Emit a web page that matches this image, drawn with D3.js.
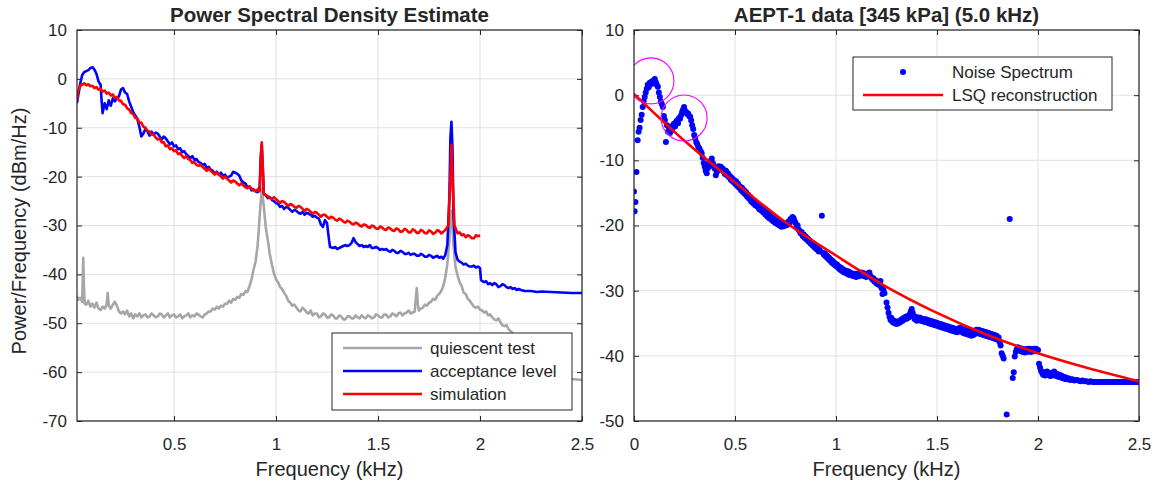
<!DOCTYPE html>
<html>
<head>
<meta charset="utf-8">
<script src="https://cdn.jsdelivr.net/npm/d3@7"></script>
<style>
  body { margin: 0; background: #fff; }
  text { font-family: "Liberation Sans", Arial, Helvetica, sans-serif; fill: #262626; }
</style>
</head>
<body>
<svg id="chart" width="1156" height="482"></svg>
<script>
// ---- data (kHz, dBm/Hz) ----
var psdTicksX = [0.5, 1, 1.5, 2, 2.5];
var psdTicksY = [10, 0, -10, -20, -30, -40, -50, -60, -70];
var fitTicksX = [0, 0.5, 1, 1.5, 2, 2.5];
var fitTicksY = [10, 0, -10, -20, -30, -40, -50];

var quiescent = [
  [0.024,-44.4],[0.03,-45.2],[0.04,-44.8],[0.05,-45.6],[0.053,-40],[0.055,-36.6],[0.058,-42],[0.062,-46.0],
  [0.07,-46.2],[0.08,-45.4],[0.09,-46.6],[0.10,-46.0],[0.11,-46.8],[0.12,-45.8],[0.13,-47.0],[0.14,-47.3],
  [0.15,-46.6],[0.16,-47.0],[0.17,-46.2],[0.175,-43.8],[0.18,-46.4],[0.19,-47.0],[0.20,-46.2],[0.21,-45.6],
  [0.22,-46.4],[0.23,-47.6],[0.24,-48.0],[0.25,-47.6],[0.26,-48.2],[0.27,-47.4],[0.28,-48.6],[0.29,-48.0],
  [0.30,-49.0],[0.31,-48.2],[0.32,-48.6],[0.33,-48.0],[0.34,-48.8],[0.35,-48.4],[0.36,-48.2],[0.37,-48.8],
  [0.38,-48.6],[0.39,-48.0],[0.40,-48.4],[0.41,-48.8],[0.42,-48.6],[0.43,-48.0],[0.44,-48.2],[0.45,-48.8],
  [0.46,-48.4],[0.47,-48.0],[0.48,-48.8],[0.49,-48.4],[0.50,-48.2],[0.51,-48.8],[0.52,-48.6],[0.53,-48.2],
  [0.54,-49.0],[0.55,-48.6],[0.56,-48.4],[0.57,-48.0],[0.58,-48.8],[0.59,-48.4],[0.60,-48.6],[0.61,-48.0],
  [0.62,-48.2],[0.63,-48.6],[0.64,-48.8],[0.65,-48.2],[0.66,-48.0],[0.67,-47.6],[0.68,-47.6],[0.69,-47.0],
  [0.70,-47.2],[0.71,-46.6],[0.72,-47.0],[0.73,-46.4],[0.74,-46.6],[0.75,-46.0],[0.76,-46.0],[0.77,-45.4],
  [0.78,-45.8],[0.79,-45.0],[0.80,-45.2],[0.81,-44.6],[0.82,-44.8],[0.83,-44.0],[0.84,-44.2],[0.85,-43.4],
  [0.86,-43.6],[0.87,-42.4],[0.88,-41.0],[0.89,-39.0],[0.90,-37.4],
  [0.91,-34.0],[0.92,-28.0],[0.93,-22.5],[0.94,-26.0],[0.95,-30.5],[0.96,-33.0],[0.97,-36.0],[0.98,-38.0],
  [0.99,-39.8],[1.00,-41.0],[1.01,-41.6],[1.02,-42.6],[1.03,-43.0],[1.04,-43.8],[1.05,-44.4],[1.06,-45.4],
  [1.07,-45.8],[1.08,-46.4],[1.09,-46.2],[1.10,-46.8],[1.11,-47.4],[1.12,-47.6],[1.13,-46.8],[1.14,-47.2],
  [1.15,-47.8],[1.16,-48.0],[1.17,-47.4],[1.18,-48.4],[1.19,-48.0],[1.20,-48.0],[1.21,-48.8],[1.22,-48.6],
  [1.23,-48.0],[1.24,-48.2],[1.25,-48.8],[1.26,-48.8],[1.27,-48.2],[1.28,-48.4],[1.29,-49.0],[1.30,-49.0],
  [1.31,-48.4],[1.32,-48.6],[1.33,-49.2],[1.34,-49.2],[1.35,-48.6],[1.36,-48.6],[1.37,-49.0],[1.38,-49.0],
  [1.39,-48.4],[1.40,-48.8],[1.41,-49.0],[1.42,-48.4],[1.43,-48.8],[1.44,-49.0],[1.45,-48.4],[1.46,-48.6],
  [1.47,-49.0],[1.48,-48.8],[1.49,-48.2],[1.50,-48.4],[1.51,-48.8],[1.52,-48.8],[1.53,-48.2],[1.54,-48.2],
  [1.55,-48.8],[1.56,-48.6],[1.57,-48.0],[1.58,-48.2],[1.59,-48.6],[1.60,-48.0],[1.61,-47.8],[1.62,-48.4],
  [1.63,-48.0],[1.64,-47.8],[1.65,-47.4],[1.66,-48.0],[1.67,-47.8],[1.68,-47.6],[1.685,-45],[1.69,-42.8],
  [1.695,-46],[1.70,-47.4],[1.71,-47.0],[1.72,-46.8],[1.73,-46.2],[1.74,-46.4],[1.75,-45.8],[1.76,-45.6],
  [1.77,-45.0],[1.78,-45.2],[1.79,-44.4],[1.80,-44.0],[1.81,-43.4],[1.82,-42.4],[1.83,-40.6],[1.84,-37.8],
  [1.85,-33],[1.855,-29],[1.86,-27],[1.865,-30],[1.87,-34],[1.88,-38.5],[1.89,-40.2],[1.90,-41.6],
  [1.91,-42.4],[1.92,-43.8],[1.93,-44.0],[1.94,-45.0],[1.95,-45.4],[1.96,-46.0],[1.97,-46.6],[1.98,-46.8],
  [1.99,-46.6],[2.00,-47.2],[2.01,-47.4],[2.02,-47.8],[2.03,-47.6],[2.04,-48.4],[2.05,-48.2],[2.06,-48.8],
  [2.07,-49.2],[2.08,-49.4],[2.09,-49.0],[2.10,-49.8],[2.11,-50.4],[2.12,-50.6],[2.13,-50.4],[2.14,-51.2],
  [2.15,-51.6],[2.16,-52.0],[2.18,-53.0],[2.20,-54.0],[2.25,-56.0],
  [2.30,-58.0],[2.35,-59.6],[2.40,-60.8],[2.45,-61.4],[2.50,-61.6]
];

var acceptance = [
  [0.024,-5.0],[0.03,-3.5],[0.04,-1.0],[0.05,0.8],[0.06,1.4],[0.07,1.6],[0.08,1.8],[0.09,2.2],[0.10,2.4],
  [0.11,1.9],[0.12,1.0],[0.13,-0.5],[0.14,-1.2],[0.145,-4.5],[0.15,-7.0],[0.16,-5.0],[0.17,-6.2],[0.18,-4.4],
  [0.19,-5.5],[0.20,-4.0],[0.21,-4.6],[0.22,-3.8],[0.23,-3.6],[0.24,-2.2],[0.25,-1.9],[0.26,-2.8],[0.27,-3.1],
  [0.28,-4.6],[0.29,-5.7],[0.30,-6.8],[0.31,-7.5],[0.32,-8.2],[0.33,-9.8],[0.34,-11.8],[0.35,-11.2],[0.36,-10.2],
  [0.37,-10.8],[0.38,-11.6],[0.39,-10.8],[0.40,-11.4],[0.41,-11.0],[0.42,-11.2],[0.43,-11.8],[0.44,-12.4],
  [0.45,-11.8],[0.46,-12.2],[0.47,-12.8],[0.48,-13.4],[0.49,-13.0],[0.50,-13.8],[0.51,-13.6],[0.52,-14.4],
  [0.53,-14.2],[0.54,-15.0],[0.55,-14.8],[0.56,-15.4],[0.57,-15.8],[0.58,-16.2],[0.59,-15.8],[0.60,-16.6],
  [0.61,-16.4],[0.62,-17.0],[0.63,-17.2],[0.64,-17.6],[0.65,-17.4],[0.66,-18.2],[0.67,-18.0],[0.68,-18.6],
  [0.69,-18.8],[0.70,-19.4],[0.71,-19.0],[0.72,-19.6],[0.73,-19.2],[0.74,-19.8],[0.75,-19.6],[0.76,-20.2],
  [0.77,-20.0],[0.78,-19.8],[0.79,-19.0],[0.80,-19.2],[0.81,-19.4],
  [0.82,-19.8],[0.83,-20.8],[0.84,-21.2],[0.85,-21.4],[0.86,-22.2],[0.87,-22.0],[0.88,-22.8],[0.89,-22.6],
  [0.90,-23.0],[0.91,-23.2],[0.92,-22.0],[0.925,-16],
  [0.93,-13.5],[0.935,-18],[0.94,-23.4],[0.95,-23.8],[0.96,-24.4],[0.97,-24.2],[0.98,-24.8],[0.99,-25.0],
  [1.00,-25.4],[1.01,-25.6],[1.02,-26.2],[1.03,-26.0],[1.04,-26.6],
  [1.05,-26.2],[1.06,-26.4],[1.07,-26.8],[1.08,-27.2],[1.09,-26.8],[1.10,-27.0],[1.11,-27.4],[1.12,-27.6],
  [1.13,-27.2],[1.14,-27.8],[1.15,-27.4],[1.16,-27.6],[1.17,-27.8],[1.18,-28.2],[1.19,-28.0],[1.20,-28.4],
  [1.21,-28.6],[1.22,-29.8],[1.23,-30.3],[1.24,-28.9],[1.25,-29.5],[1.26,-33.0],[1.265,-34.4],[1.28,-34.6],
  [1.29,-34.4],[1.30,-34.8],[1.31,-34.6],
  [1.32,-34.4],[1.33,-34.2],[1.34,-34.0],[1.35,-34.2],[1.36,-34.0],[1.37,-33.6],[1.38,-32.6],[1.39,-33.4],
  [1.40,-33.8],[1.41,-34.2],[1.42,-34.0],[1.43,-34.4],[1.44,-34.2],[1.45,-34.4],[1.46,-34.0],
  [1.47,-34.6],[1.48,-34.6],[1.49,-34.4],[1.50,-34.6],[1.51,-35.0],[1.52,-34.8],[1.53,-35.0],[1.54,-34.8],
  [1.55,-35.2],[1.56,-35.4],[1.57,-35.0],[1.58,-35.2],[1.59,-35.6],[1.60,-35.6],[1.61,-35.2],[1.62,-35.4],
  [1.63,-35.8],[1.64,-35.8],[1.65,-35.6],[1.66,-36.0],[1.67,-35.8],[1.68,-35.8],[1.69,-36.2],[1.70,-36.2],
  [1.71,-35.8],[1.72,-36.0],[1.73,-36.4],[1.74,-36.4],[1.75,-36.0],[1.76,-36.2],[1.77,-36.6],[1.78,-36.4],
  [1.79,-36.2],[1.80,-36.6],[1.81,-36.4],[1.82,-36.8],[1.83,-36.0],[1.84,-34],[1.85,-24],[1.855,-12],[1.86,-8.8],[1.865,-14],
  [1.87,-28],[1.88,-35.5],[1.89,-37.0],[1.90,-37.4],[1.91,-37.6],[1.92,-38.0],[1.93,-37.8],[1.94,-38.2],
  [1.95,-38.4],[1.96,-38.4],[1.97,-38.2],[1.98,-38.6],[1.99,-38.4],
  [2.00,-38.7],[2.005,-41.2],[2.02,-41.6],[2.03,-41.4],[2.04,-42.0],[2.05,-41.8],[2.06,-42.2],[2.07,-41.8],[2.08,-42.0],
  [2.09,-42.6],[2.10,-42.4],[2.11,-42.0],[2.12,-42.2],[2.13,-42.6],[2.14,-42.8],[2.15,-42.6],[2.16,-43.0],
  [2.17,-42.8],[2.18,-43.2],[2.19,-43.0],[2.20,-43.2],[2.22,-43.4],[2.25,-43.4],[2.28,-43.6],[2.30,-43.5],
  [2.35,-43.6],[2.40,-43.7],[2.45,-43.8],[2.50,-43.8]
];

var simulation = [
  [0.024,-4.3],[0.03,-2.6],[0.04,-1.4],[0.05,-1.2],[0.06,-0.9],[0.07,-1.3],[0.08,-1.1],[0.09,-1.5],[0.10,-1.4],
  [0.11,-1.9],[0.12,-1.7],[0.13,-2.2],[0.14,-2.0],[0.15,-2.6],[0.16,-2.4],[0.17,-3.0],[0.18,-2.8],[0.19,-3.4],
  [0.20,-3.2],[0.21,-3.9],[0.22,-3.7],[0.23,-4.4],[0.24,-4.5],[0.25,-5.2],[0.26,-5.3],[0.27,-6.0],[0.28,-6.3],
  [0.29,-7.0],[0.30,-7.2],[0.31,-8.0],[0.32,-8.1],[0.33,-8.9],[0.34,-9.0],[0.35,-9.8],[0.36,-10.0],[0.37,-10.6],
  [0.38,-10.8],[0.39,-11.4],[0.40,-11.4],[0.41,-12.0],[0.42,-12.4],[0.43,-12.2],[0.44,-13.0],[0.45,-13.0],[0.46,-13.8],
  [0.47,-13.6],[0.48,-14.4],[0.49,-14.2],[0.50,-14.8],[0.51,-14.6],[0.52,-15.4],[0.53,-15.2],[0.54,-15.8],[0.55,-16.2],[0.56,-15.8],[0.57,-16.4],
  [0.58,-16.6],[0.59,-17.2],[0.60,-17.0],[0.61,-17.6],[0.62,-17.8],[0.63,-17.6],[0.64,-18.0],[0.65,-18.4],[0.66,-18.8],[0.67,-18.4],[0.68,-18.8],
  [0.69,-19.2],[0.70,-19.6],[0.71,-19.2],[0.72,-19.6],[0.73,-20.0],[0.74,-20.4],[0.75,-20.0],[0.76,-20.4],
  [0.77,-20.8],[0.78,-21.2],[0.79,-20.8],[0.80,-21.0],[0.81,-21.4],[0.82,-21.8],[0.83,-21.4],[0.84,-21.8],
  [0.85,-22.2],[0.86,-22.4],[0.87,-22.0],[0.88,-22.4],[0.89,-22.8],[0.90,-23.0],
  [0.91,-22.6],[0.92,-23.0],[0.925,-17],[0.93,-13.0],[0.935,-18],[0.94,-23.6],[0.95,-23.8],[0.96,-24.0],[0.97,-24.4],[0.98,-24.6],
  [0.99,-24.2],[1.00,-24.6],[1.01,-25.0],[1.02,-25.4],[1.03,-25.0],[1.04,-25.2],[1.05,-25.6],[1.06,-26.0],[1.07,-25.6],[1.08,-25.8],[1.09,-26.2],[1.10,-26.4],
  [1.11,-26.0],[1.12,-26.2],[1.13,-26.6],[1.14,-27.0],[1.15,-26.6],
  [1.16,-26.8],[1.17,-27.2],[1.18,-27.6],[1.19,-27.2],[1.20,-27.4],[1.21,-27.8],[1.22,-28.2],[1.23,-27.8],[1.24,-27.8],[1.25,-28.2],[1.26,-28.6],
  [1.27,-28.2],[1.28,-28.4],[1.29,-28.8],[1.30,-29.0],
  [1.31,-28.6],[1.32,-28.8],[1.33,-29.2],[1.34,-29.4],[1.35,-29.0],[1.36,-29.2],[1.37,-29.6],[1.38,-29.8],[1.39,-29.4],[1.40,-29.6],[1.41,-30.0],
  [1.42,-30.2],[1.43,-29.8],[1.44,-29.9],[1.45,-30.3],[1.46,-30.5],
  [1.47,-30.0],[1.48,-30.2],[1.49,-30.6],[1.50,-30.7],[1.51,-30.2],[1.52,-30.4],[1.53,-30.8],[1.54,-30.9],
  [1.55,-30.4],[1.56,-30.6],[1.57,-31.0],[1.58,-31.1],[1.59,-30.6],[1.60,-30.8],[1.61,-31.3],[1.62,-31.2],
  [1.63,-30.7],[1.64,-30.9],[1.65,-31.4],[1.66,-31.4],[1.67,-30.8],[1.68,-31.0],[1.69,-31.5],[1.70,-31.5],
  [1.71,-30.9],[1.72,-31.1],[1.73,-31.6],[1.74,-31.6],[1.75,-31.0],[1.76,-31.2],[1.77,-31.7],[1.78,-31.5],
  [1.79,-31.0],[1.80,-31.1],[1.81,-31.6],[1.82,-31.3],
  [1.83,-30.9],[1.845,-30],[1.855,-20],[1.86,-13.5],[1.865,-20],[1.875,-30],
  [1.89,-31.6],[1.90,-31.4],[1.91,-32.0],[1.92,-31.8],[1.93,-32.4],[1.94,-32.0],[1.95,-32.2],[1.96,-32.6],[1.97,-32.6],[1.98,-32.0],[1.99,-32.2],[2.00,-32.0]
];

var noiseSpectrum = [
  [0.000,-14.8],[0.003,-17.8],[0.007,-16.4],[0.012,-11.8],[0.018,-6.9],[0.023,-5.6],[0.028,-5.0],[0.033,-3.8],
  [0.038,-3.0],[0.043,-1.8],[0.048,-0.9],[0.053,-0.3],[0.058,0.4],[0.063,1.0],[0.068,1.6],[0.073,1.2],
  [0.078,1.9],[0.083,1.7],[0.088,2.1],[0.093,1.8],[0.098,2.3],[0.103,2.5],[0.108,2.0],[0.113,1.6],
  [0.118,1.3],[0.123,0.4],[0.128,-0.3],[0.133,-1.0],[0.138,-1.4],[0.143,-1.8],[0.148,-3.2],[0.153,-3.8],
  [0.158,-7.2],[0.163,-4.6],[0.168,-5.6],[0.173,-5.0],[0.178,-5.8],[0.183,-4.9],[0.188,-5.4],[0.193,-4.6],
  [0.198,-4.4],[0.203,-4.8],[0.208,-4.1],[0.213,-3.9],[0.218,-4.3],[0.223,-3.5],[0.228,-3.6],[0.233,-3.1],
  [0.238,-2.6],[0.243,-2.2],[0.248,-1.8],[0.253,-2.4],[0.258,-2.6],[0.263,-2.9],[0.268,-2.8],[0.273,-3.2],
  [0.278,-3.3],[0.283,-3.9],[0.288,-4.6],[0.293,-5.2],[0.298,-6.1],[0.303,-6.6],[0.308,-7.2],[0.313,-7.5],
  [0.318,-7.9],[0.324,-8.2],
  [0.330,-8.6],[0.335,-8.9],[0.340,-9.6],[0.345,-10.4],[0.350,-11.0],[0.355,-11.6],[0.360,-12.0],[0.365,-11.2],
  [0.370,-10.5],[0.375,-10.9],[0.380,-10.1],[0.385,-9.7],[0.390,-10.4],[0.395,-10.8],[0.400,-11.3],[0.405,-12.3],
  [0.410,-11.8],[0.415,-11.2],[0.420,-10.9],[0.425,-11.4],[0.430,-11.0],[0.435,-11.5],[0.440,-11.3],[0.445,-11.8],
  [0.450,-12.1],[0.455,-11.6],[0.460,-12.3],[0.465,-12.0],[0.470,-12.6],[0.475,-12.4],[0.480,-13.0],[0.485,-12.7],
  [0.490,-13.3],[0.495,-13.0],[0.500,-13.6],[0.505,-13.2],[0.510,-13.9],[0.515,-13.6],[0.520,-14.2],[0.525,-14.0],
  [0.530,-14.6],[0.535,-14.2],[0.540,-14.9],[0.545,-14.6],[0.550,-15.2],[0.555,-14.9],[0.560,-15.6],[0.565,-15.3],
  [0.570,-15.9],[0.575,-15.6],[0.580,-16.3],[0.585,-16.0],[0.590,-16.6],[0.595,-16.2],[0.600,-16.9],[0.605,-16.5],
  [0.610,-17.1],[0.615,-16.8],[0.620,-17.5],[0.625,-17.1],[0.630,-17.7],[0.635,-17.4],[0.640,-18.0],[0.645,-17.6],
  [0.650,-18.3],[0.655,-17.9],[0.660,-18.6],[0.665,-18.2],[0.670,-18.9],[0.675,-18.5],[0.680,-19.1],[0.685,-18.8],
  [0.690,-19.4],[0.695,-19.0],[0.700,-19.6],[0.705,-19.2],[0.710,-19.8],[0.715,-19.5],[0.720,-20.0],[0.725,-19.6],
  [0.730,-20.2],[0.735,-19.8],[0.740,-20.1],[0.745,-19.7],[0.750,-20.0],[0.755,-19.6],[0.760,-19.9],[0.765,-19.4],
  [0.770,-19.6],[0.775,-19.0],[0.780,-19.2],[0.785,-18.7],[0.790,-18.9],[0.795,-19.3],[0.800,-19.6],[0.805,-20.2],
  [0.810,-20.0],[0.815,-20.6],[0.820,-20.9],[0.825,-21.2],[0.830,-21.0],[0.835,-21.6],[0.840,-21.4],[0.845,-21.9],
  [0.850,-21.7],[0.855,-22.2],[0.860,-22.0],[0.865,-22.5],[0.870,-22.3],[0.875,-22.8],[0.880,-22.6],[0.885,-23.1],
  [0.890,-22.9],[0.895,-23.4],[0.900,-23.2],[0.905,-23.7],[0.910,-23.5],[0.915,-24.0],[0.920,-23.8],[0.930,-18.5],
  [0.935,-24.2],[0.940,-24.5],[0.945,-24.3],[0.950,-24.8],[0.955,-24.6],[0.960,-25.1],[0.965,-24.9],[0.970,-25.4],
  [0.975,-25.2],[0.980,-25.7],[0.985,-25.5],[0.990,-26.0],[0.995,-25.8],[1.000,-26.2],[1.005,-26.0],[1.010,-26.5],
  [1.015,-26.3],[1.020,-26.8],[1.025,-26.5],[1.030,-27.0],[1.035,-26.7],[1.040,-27.2],[1.045,-26.9],[1.050,-27.3],
  [1.055,-27.0],[1.060,-27.5],[1.065,-27.1],[1.070,-27.6],[1.075,-27.3],[1.080,-27.7],[1.085,-27.4],[1.090,-27.8],
  [1.095,-27.4],[1.100,-27.9],[1.105,-27.5],[1.110,-27.8],[1.115,-27.3],[1.120,-27.7],[1.125,-27.2],[1.130,-27.6],
  [1.135,-27.3],[1.140,-27.8],[1.145,-27.5],[1.150,-27.9],[1.155,-27.4],[1.160,-27.6],[1.165,-27.2],[1.170,-27.7],
  [1.175,-28.0],[1.180,-28.3],[1.185,-28.1],[1.190,-28.6],[1.195,-28.4],[1.200,-28.9],[1.205,-28.6],[1.210,-29.1],
  [1.215,-28.7],[1.220,-28.5],[1.225,-29.6],[1.230,-30.5],[1.235,-29.9],[1.240,-30.4],[1.250,-31.8],[1.255,-32.6],
  [1.260,-33.4],[1.265,-34.0],[1.270,-34.5],[1.275,-34.2],[1.280,-34.8],[1.285,-34.6],[1.290,-35.0],[1.295,-34.7],
  [1.300,-35.1],[1.305,-34.8],[1.310,-35.0],[1.315,-34.6],[1.320,-34.8],[1.325,-34.4],[1.330,-34.6],[1.335,-34.2],
  [1.340,-34.4],[1.345,-34.0],[1.350,-34.3],[1.355,-33.9],[1.360,-34.1],[1.365,-33.6],[1.370,-33.2],[1.375,-32.8],
  [1.380,-33.4],[1.385,-34.0],[1.390,-34.4],[1.395,-34.0],[1.400,-34.6],[1.405,-34.2],[1.410,-34.5],[1.415,-34.1],
  [1.420,-34.6],[1.425,-34.3],[1.430,-34.7],[1.435,-34.4],[1.440,-34.8],[1.445,-34.4],[1.450,-34.9],[1.455,-34.5],
  [1.460,-35.0],[1.465,-34.6],[1.470,-35.1],[1.475,-34.7],[1.480,-35.2],[1.485,-34.8],[1.490,-35.3],[1.495,-34.9],
  [1.500,-35.4],[1.505,-35.0],[1.510,-35.5],[1.515,-35.1],[1.520,-35.6],[1.525,-35.2],[1.530,-35.7],[1.535,-35.3],
  [1.540,-35.8],[1.545,-35.4],[1.550,-35.9],[1.555,-35.5],[1.560,-36.0],[1.565,-35.6],[1.570,-36.1],[1.575,-35.7],
  [1.580,-36.2],[1.585,-35.8],[1.590,-36.3],[1.595,-35.9],[1.600,-36.4],[1.605,-35.8],[1.610,-36.2],[1.615,-35.7],
  [1.620,-36.3],[1.625,-35.9],[1.630,-36.5],[1.635,-36.0],[1.640,-36.6],[1.645,-36.1],[1.650,-36.7],[1.655,-36.2],
  [1.660,-36.8],[1.665,-36.3],[1.670,-36.9],[1.675,-36.4],[1.680,-36.8],[1.685,-36.2],[1.690,-36.6],[1.695,-36.0],
  [1.700,-36.5],[1.705,-36.0],[1.710,-36.6],[1.715,-36.1],[1.720,-36.7],[1.725,-36.2],[1.730,-36.8],[1.735,-36.3],
  [1.740,-36.9],[1.745,-36.4],[1.750,-37.0],[1.755,-36.5],[1.760,-37.1],[1.765,-36.6],[1.770,-37.2],[1.775,-36.7],
  [1.780,-37.3],[1.785,-36.8],[1.790,-37.4],[1.795,-36.9],[1.800,-37.5],[1.805,-37.2],[1.810,-37.9],[1.815,-38.4],
  [1.820,-39.6],[1.825,-40.0],[1.830,-40.4],[1.845,-49.0],[1.860,-19.0],[1.875,-43.4],[1.880,-42.5],[1.885,-40.1],
  [1.890,-39.4],[1.895,-39.0],[1.900,-38.7],[1.905,-39.1],[1.910,-38.8],[1.915,-39.3],[1.920,-38.9],[1.925,-39.4],
  [1.930,-39.0],[1.935,-39.5],[1.940,-39.0],[1.945,-39.4],[1.950,-38.9],[1.955,-39.3],[1.960,-38.9],[1.965,-39.4],
  [1.970,-39.0],[1.975,-39.3],[1.980,-38.9],[1.985,-39.3],[1.990,-38.9],[1.995,-39.2],[2.000,-39.1],[2.005,-41.2],
  [2.010,-41.8],[2.015,-42.3],[2.020,-42.6],[2.025,-42.9],[2.030,-42.5],[2.035,-43.0],[2.040,-42.7],[2.045,-42.4],
  [2.050,-42.9],[2.055,-42.6],[2.060,-43.1],[2.065,-42.7],[2.070,-43.0],[2.075,-42.6],[2.080,-42.4],[2.085,-42.8],
  [2.090,-43.1],[2.095,-42.8],[2.100,-43.2],[2.105,-42.9],[2.110,-43.3],[2.115,-43.0],[2.120,-43.4],[2.125,-43.2],
  [2.130,-43.5],[2.135,-43.3],[2.140,-43.6],[2.145,-43.4],[2.150,-43.6],[2.155,-43.5],[2.160,-43.7],[2.170,-43.6],
  [2.180,-43.8],[2.190,-43.7],[2.200,-43.8],[2.210,-43.9],[2.220,-43.8],[2.230,-43.9],[2.240,-43.9],[2.250,-44.0],
  [2.260,-43.9],[2.270,-44.0],[2.280,-44.0],[2.290,-44.0],[2.300,-44.0],[2.310,-44.0],[2.320,-44.0],[2.330,-44.0],
  [2.340,-44.0],[2.350,-44.0],[2.360,-44.0],[2.370,-44.0],[2.380,-44.0],[2.390,-44.0],[2.400,-44.0],[2.410,-44.0],
  [2.420,-44.0],[2.430,-44.0],[2.440,-44.0],[2.450,-44.0],[2.460,-44.0],[2.470,-44.0],[2.480,-44.0],[2.490,-44.0],
  [2.500,-44.0]
];

var lsqFit = [
  [0,0.2],[0.25,-7.0],[0.5,-13.4],[0.75,-19.5],[1.0,-24.6],[1.25,-29.4],
  [1.5,-33.4],[1.75,-36.8],[2.0,-39.6],[2.25,-41.9],[2.5,-43.9]
];

var highlights = [[0.084, 2.2], [0.248, -3.5]];

// ---- layout ----
var svg = d3.select("#chart");
var ink = "#262626";

function panel(box, xDomain, yDomain, xTicks, yTicks, id) {
  var x = d3.scaleLinear().domain(xDomain).range([box.x0, box.x1]);
  var y = d3.scaleLinear().domain(yDomain).range([box.y1, box.y0]);
  var w = box.x1 - box.x0, h = box.y1 - box.y0;
  var g = svg.append("g");

  svg.append("clipPath").attr("id", id)
    .append("rect").attr("x", box.x0).attr("y", box.y0).attr("width", w).attr("height", h);

  // grid
  g.selectAll(".gx").data(xTicks).enter().append("line")
    .attr("x1", d => x(d)).attr("x2", d => x(d)).attr("y1", box.y0).attr("y2", box.y1)
    .attr("stroke", "#e1e1e1").attr("stroke-width", 1);
  g.selectAll(".gy").data(yTicks).enter().append("line")
    .attr("y1", d => y(d)).attr("y2", d => y(d)).attr("x1", box.x0).attr("x2", box.x1)
    .attr("stroke", "#e1e1e1").attr("stroke-width", 1);

  var fmt = d => String(d);
  var ax = [
    g.append("g").attr("transform", "translate(0," + box.y1 + ")")
      .call(d3.axisBottom(x).tickValues(xTicks).tickSize(-5).tickPadding(17).tickFormat(fmt)),
    g.append("g").attr("transform", "translate(0," + box.y0 + ")")
      .call(d3.axisTop(x).tickValues(xTicks).tickSize(-5).tickFormat("")),
    g.append("g").attr("transform", "translate(" + box.x0 + ",0)")
      .call(d3.axisLeft(y).tickValues(yTicks).tickSize(-5).tickPadding(10).tickFormat(fmt)),
    g.append("g").attr("transform", "translate(" + box.x1 + ",0)")
      .call(d3.axisRight(y).tickValues(yTicks).tickSize(-5).tickFormat(""))
  ];
  ax.forEach(function (a) {
    a.select(".domain").remove();
    a.selectAll("line").attr("stroke", ink);
    a.selectAll("text").attr("font-size", 17).style("font-family", null).attr("fill", ink);
  });

  var plot = svg.append("g").attr("clip-path", "url(#" + id + ")");

  svg.append("rect").attr("x", box.x0).attr("y", box.y0)
    .attr("width", w).attr("height", h).attr("fill", "none")
    .attr("stroke", ink).attr("stroke-width", 1.2);

  return { x: x, y: y, plot: plot, box: box };
}

var left = panel({ x0: 77, x1: 582, y0: 30, y1: 421 }, [0.0244, 2.5], [-70, 10], psdTicksX, psdTicksY, "clipL");
var right = panel({ x0: 634, x1: 1139, y0: 30, y1: 421 }, [0, 2.5], [-50, 10], fitTicksX, fitTicksY, "clipR");

// left panel lines
var lineL = d3.line().x(d => left.x(d[0])).y(d => left.y(d[1]));
var series = [
  { name: "quiescent test", data: quiescent, color: "#a6a6a6" },
  { name: "acceptance level", data: acceptance, color: "#0000ff" },
  { name: "simulation", data: simulation, color: "#ff0000" }
];
series.forEach(function (s) {
  left.plot.append("path").datum(s.data).attr("d", lineL)
    .attr("fill", "none").attr("stroke", s.color).attr("stroke-width", 2.6)
    .attr("stroke-linejoin", "round");
});

// right panel scatter + fit
right.plot.selectAll(".pt").data(noiseSpectrum).enter().append("circle")
  .attr("cx", d => right.x(d[0])).attr("cy", d => right.y(d[1])).attr("r", 3)
  .attr("fill", "#0000ff");
var lineR = d3.line().x(d => right.x(d[0])).y(d => right.y(d[1])).curve(d3.curveMonotoneX);
right.plot.append("path").datum(lsqFit).attr("d", lineR)
  .attr("fill", "none").attr("stroke", "#ff0000").attr("stroke-width", 2.6);
right.plot.selectAll(".hl").data(highlights).enter().append("circle")
  .attr("cx", d => right.x(d[0])).attr("cy", d => right.y(d[1])).attr("r", 23)
  .attr("fill", "none").attr("stroke", "#ff00ff").attr("stroke-width", 1.1);

// left legend
var lg = svg.append("g").attr("transform", "translate(332,333)");
lg.append("rect").attr("width", 240).attr("height", 77).attr("fill", "#fff")
  .attr("stroke", ink).attr("stroke-width", 1);
series.forEach(function (s, i) {
  var yy = 15 + i * 23;
  lg.append("line").attr("x1", 11).attr("x2", 90).attr("y1", yy).attr("y2", yy)
    .attr("stroke", s.color).attr("stroke-width", 2.6);
  lg.append("text").attr("x", 98).attr("y", yy + 6).attr("font-size", 17).text(s.name);
});

// right legend
var rg = svg.append("g").attr("transform", "translate(853,57)");
rg.append("rect").attr("width", 259).attr("height", 53).attr("fill", "#fff")
  .attr("stroke", ink).attr("stroke-width", 1);
rg.append("circle").attr("cx", 50).attr("cy", 15).attr("r", 3).attr("fill", "#0000ff");
rg.append("text").attr("x", 99).attr("y", 21).attr("font-size", 17).text("Noise Spectrum");
rg.append("line").attr("x1", 10).attr("x2", 90).attr("y1", 38).attr("y2", 38)
  .attr("stroke", "#ff0000").attr("stroke-width", 2.6);
rg.append("text").attr("x", 99).attr("y", 44).attr("font-size", 17).text("LSQ reconstruction");

// titles and labels
svg.append("text").attr("x", 329.5).attr("y", 22).attr("text-anchor", "middle")
  .attr("font-size", 20.5).attr("font-weight", "bold").attr("fill", "#000")
  .text("Power Spectral Density Estimate");
svg.append("text").attr("x", 886.5).attr("y", 22).attr("text-anchor", "middle")
  .attr("font-size", 20.5).attr("font-weight", "bold").attr("fill", "#000")
  .text("AEPT-1 data [345 kPa] (5.0 kHz)");
svg.append("text").attr("x", 329.5).attr("y", 476).attr("text-anchor", "middle")
  .attr("font-size", 20).text("Frequency (kHz)");
svg.append("text").attr("x", 886.5).attr("y", 476).attr("text-anchor", "middle")
  .attr("font-size", 20).text("Frequency (kHz)");
svg.append("text").attr("transform", "translate(26,231) rotate(-90)").attr("text-anchor", "middle")
  .attr("font-size", 20).text("Power/Frequency (dBm/Hz)");
</script>
</body>
</html>
